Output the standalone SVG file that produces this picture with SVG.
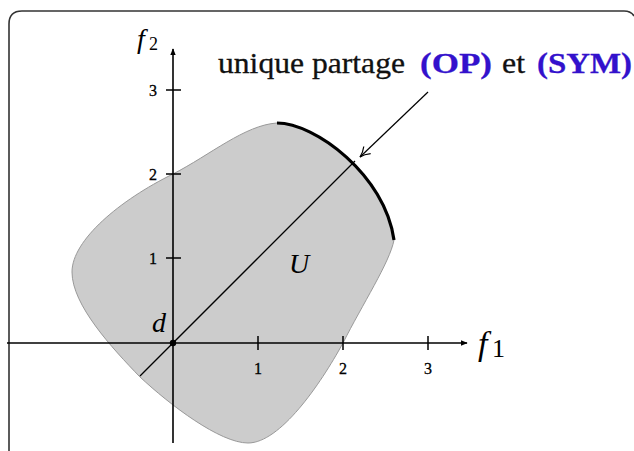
<svg xmlns="http://www.w3.org/2000/svg" width="634" height="451" viewBox="0 0 634 451">
<style>
.frame{fill:none;stroke:#333;stroke-width:1.6}
.axis{fill:none;stroke:#000;stroke-width:1.6}
.tick{fill:none;stroke:#000;stroke-width:1.5}
.tl{font-family:"Liberation Serif","DejaVu Serif",serif;font-size:16px;fill:#000;text-anchor:middle;stroke:#000;stroke-width:0.3}
.math{font-family:"Liberation Serif","DejaVu Serif",serif;font-style:italic;fill:#000}
.lab{font-family:"Liberation Serif","DejaVu Serif",serif;font-size:30px;fill:#111;stroke:#111;stroke-width:0.3}
.blue{font-weight:bold;fill:#3311cc;stroke:#3311cc}
</style>
<defs>
<marker id="ah" viewBox="0 0 10 10" refX="9" refY="5" markerWidth="7" markerHeight="7" orient="auto" markerUnits="userSpaceOnUse">
<path d="M0,1 L10,5 L0,9 Z" fill="#000"/>
</marker>
<marker id="ah2" viewBox="0 0 12 12" refX="11" refY="6" markerWidth="12" markerHeight="12" orient="auto" markerUnits="userSpaceOnUse">
<path d="M1,1 Q6,5 11,6 Q6,7 1,11" fill="none" stroke="#000" stroke-width="1.2"/>
</marker>
</defs>
<g id="frame">
<path class="frame" d="M9,460 L9,24 Q9,11 22,11 L624,11 Q631,11 634,16"/>
</g>
<g id="region-U">
<path d="M277,123 C315,123 385,175 394,240 C390,262 362,305 343,343 C320,385 280,443 248,443 C220,443 170,405 140,377 C112,348 72,305 72,272 C72,240 120,200 173,174 C210,155 245,125 277,123 Z" fill="#cccccc" stroke="#999" stroke-width="1"/>
</g>
<g id="pareto-arc">
<path d="M277,123 C315,123 385,175 394,240" fill="none" stroke="#000" stroke-width="3.2"/>
</g>
<g id="connectors">
<line class="axis" x1="7" y1="343" x2="467" y2="343" marker-end="url(#ah)"/>
<line class="axis" x1="173" y1="443" x2="173" y2="49" marker-end="url(#ah)"/>
<line x1="140" y1="376" x2="355" y2="161" stroke="#000" stroke-width="1.3"/>
<line x1="428" y1="92" x2="360" y2="157" stroke="#000" stroke-width="1.2" marker-end="url(#ah2)"/>
</g>
<g id="ticks">
<path class="tick" d="M166,90 H181 M166,174 H181 M166,258 H181 M258,336 V350 M343,336 V350 M428,336 V350"/>
<text class="tl" x="153" y="96">3</text>
<text class="tl" x="153" y="180">2</text>
<text class="tl" x="153" y="264">1</text>
<text class="tl" x="258" y="374">1</text>
<text class="tl" x="343" y="374">2</text>
<text class="tl" x="428" y="374">3</text>
</g>
<g id="origin-d">
<circle cx="173" cy="343" r="3.2" fill="#000"/>
<text class="math" x="152" y="332" font-size="28">d</text>
</g>
<g id="label-U">
<text class="math" x="289" y="273" font-size="28">U</text>
</g>
<g id="label-f1">
<text class="math" x="478" y="355" font-size="34">f</text>
<text x="492" y="357" font-family="Liberation Serif, DejaVu Serif, serif" font-size="26">1</text>
</g>
<g id="label-f2">
<text class="math" x="137" y="48" font-size="28">f</text>
<text x="149" y="50" font-family="Liberation Serif, DejaVu Serif, serif" font-size="18">2</text>
</g>
<g id="annotation">
<text class="lab" y="73"><tspan x="218" textLength="187" lengthAdjust="spacingAndGlyphs">unique partage</tspan><tspan class="blue" x="420" textLength="72" lengthAdjust="spacingAndGlyphs">(OP)</tspan><tspan x="502" textLength="23" lengthAdjust="spacingAndGlyphs">et</tspan><tspan class="blue" x="537" textLength="95" lengthAdjust="spacingAndGlyphs">(SYM)</tspan></text>
</g>
</svg>
